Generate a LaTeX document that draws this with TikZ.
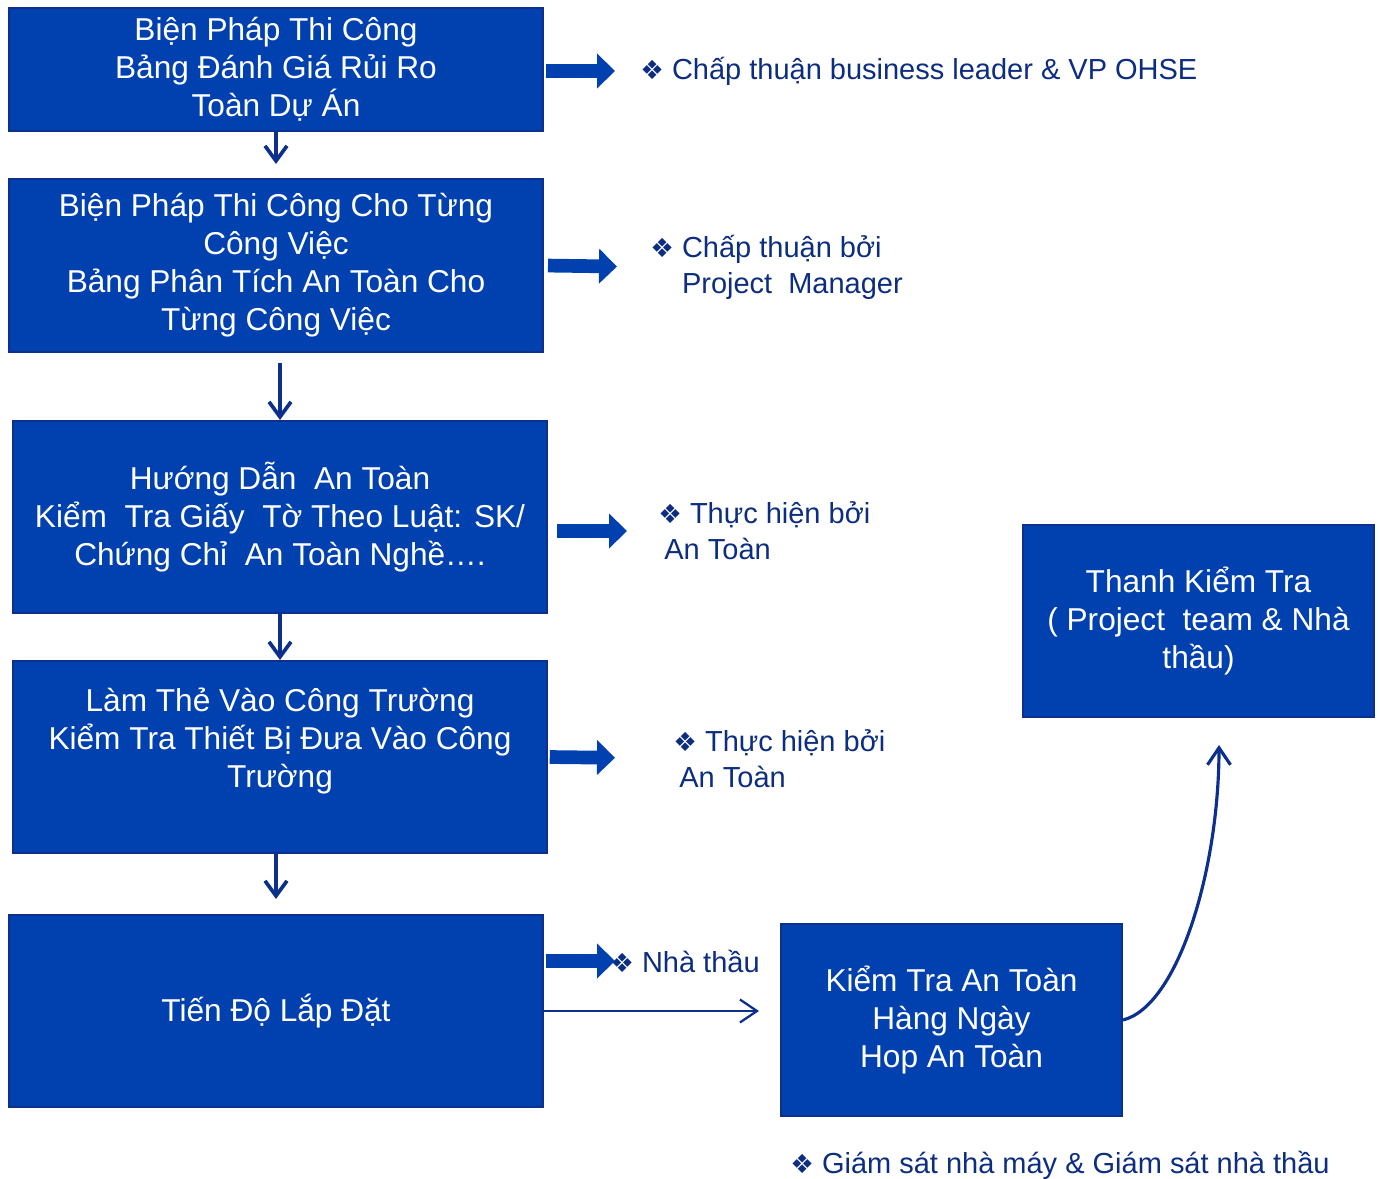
\documentclass[tikz,border=0pt]{standalone}
\usepackage{fontspec}
\setmainfont{Liberation Sans}
\newfontfamily\symfont{DejaVu Sans}
\usetikzlibrary{arrows.meta,positioning}
\definecolor{boxblue}{RGB}{0,65,175}
\definecolor{edgeblue}{RGB}{12,48,140}
\definecolor{txtblue}{RGB}{12,45,128}
\newcommand{\bul}{{\symfont\fontsize{15}{15}\selectfont ❖}\ }
\tikzset{stepbox/.style={draw=edgeblue,line width=1.2pt,fill=boxblue,text=white,align=center,
           font=\fontsize{18}{21.6}\selectfont,inner sep=2pt},
         note/.style={text=txtblue,align=left,anchor=west,inner sep=0pt,
           font=\fontsize{16.5}{20.5}\selectfont},
         down/.style={-{Straight Barb[length=3mm,width=4.4mm]},line width=2.1pt,edgeblue},
         thin/.style={-{Straight Barb[length=3.4mm,width=4.6mm]},line width=1.3pt,edgeblue},
         fat/.style={-{Triangle[length=3.6mm,width=6.8mm]},line width=7.8pt,boxblue}}
\begin{document}
\begin{tikzpicture}[x=0.02cm,y=-0.02cm]
  \useasboundingbox (0,0) rectangle (1380,1179);
  % boxes of the left column
  \node[stepbox,minimum width=10.68cm,minimum height=2.46cm] (b1) at (276,69.5)
    {Biện Pháp Thi Công\\Bảng Đánh Giá Rủi Ro\\Toàn Dự Án};
  \node[stepbox,minimum width=10.68cm,minimum height=3.46cm] (b2) at (276,265.5)
    {Biện Pháp Thi Công Cho Từng\\Công Việc\\Bảng Phân Tích An Toàn Cho\\Từng Công Việc};
  \node[stepbox,minimum width=10.68cm,minimum height=3.84cm] (b3) at (280,517)
    {Hướng Dẫn\ \ An Toàn\\Kiểm\ \ Tra Giấy\ \ Tờ Theo Luật: SK/\\Chứng Chỉ\ \ An Toàn Nghề….};
  \node[stepbox,minimum width=10.68cm,minimum height=3.84cm] (b4) at (280,757)
    {Làm Thẻ Vào Công Trường\\Kiểm Tra Thiết Bị Đưa Vào Công\\Trường\\~};
  \node[stepbox,minimum width=10.68cm,minimum height=3.84cm] (b5) at (276,1011)
    {Tiến Độ Lắp Đặt};
  % boxes on the right
  \node[stepbox,minimum width=6.82cm,minimum height=3.84cm] (b6) at (951.5,1020)
    {Kiểm Tra An Toàn\\Hàng Ngày\\Hop An Toàn};
  \node[stepbox,minimum width=7.02cm,minimum height=3.84cm] (b7) at (1198.5,621)
    {Thanh Kiểm Tra\\( Project\ \ team \& Nhà\\thầu)};
  % notes
  \node[note] (t1) at (640,71) {\bul Chấp thuận business leader \& VP OHSE};
  \node[note] (t2) at (650,267) {\bul Chấp thuận bởi\\\phantom{\bul}Project\ \ Manager};
  \node[note] (t3) at (658,531) {\bul Thực hiện bởi\\\hspace{0.12cm}An Toàn};
  \node[note] (t4) at (673,758.5) {\bul Thực hiện bởi\\\hspace{0.12cm}An Toàn};
  \node[note] (t5) at (610,961) {\bul Nhà thầu};
  \node[note] (t6) at (790,1165) {\bul Giám sát nhà máy \& Giám sát nhà thầu};
  \coordinate (up) at (1219,745);
  % flow down
  \draw[down,shorten >=0.28cm] (b1) -- (b2);
  \draw[down,shorten <=0.2cm] (b3.north |- b2.south) -- (b3.north);
  \draw[down] (b3) -- (b4);
  \draw[down,shorten >=0.3cm] (b5.north |- b4.south) -- (b5.north);
  % block arrows to the notes
  \draw[fat,shorten <=1pt,shorten >=0.5cm] (b1.east |- t1.west) -- (t1.west);
  \draw[fat,shorten <=0.08cm,shorten >=0.66cm] (b2.east) -- (t2.west);
  \draw[fat,shorten <=0.18cm,shorten >=0.62cm] (b3.east |- t3.west) -- (t3.west);
  \draw[fat,shorten <=1pt,shorten >=1.16cm] (b4.east) -- (t4.west);
  \draw[fat,shorten <=1pt,shorten >=-0.1cm] (b5.east |- t5.west) -- (t5.west);
  % daily checks
  \draw[thin,shorten >=0.42cm] (b5.east) -- (b5.east -| b6.west);
  \draw[thin,line width=1.8pt] (b6.east) .. controls (1178,1006) and (1219,870) .. (up);
\end{tikzpicture}
\end{document}
